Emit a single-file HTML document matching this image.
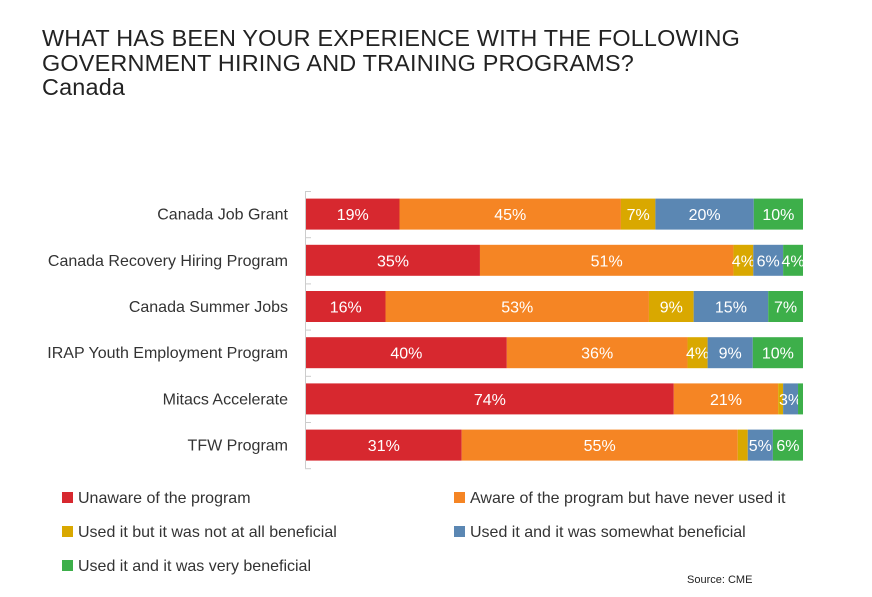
<!DOCTYPE html>
<html><head><meta charset="utf-8"><style>
body{margin:0;background:#fff;width:872px;height:597px;overflow:hidden;font-family:"Liberation Sans",sans-serif}
.t{position:absolute;left:42px;color:#222;font-size:23.4px;line-height:24.5px;font-weight:300}
</style></head><body>
<div class="t" style="top:26px;letter-spacing:0.2px">WHAT HAS BEEN YOUR EXPERIENCE WITH THE FOLLOWING<br>GOVERNMENT HIRING AND TRAINING PROGRAMS?<br>Canada</div>
<svg id="c" width="872" height="597" style="position:absolute;left:0;top:0"></svg>
<script>
const categories=["Canada Job Grant","Canada Recovery Hiring Program","Canada Summer Jobs","IRAP Youth Employment Program","Mitacs Accelerate","TFW Program"];
const unaware=[19,35,16,40,74,31];
const awareNeverUsed=[45,51,53,36,21,55];
const notBeneficial=[7,4,9,4,1,2];
const somewhatBeneficial=[20,6,15,9,3,5];
const veryBeneficial=[10,4,7,10,1,6];
const labels=[["19%","45%","7%","20%","10%"],["35%","51%","4%","6%","4%"],["16%","53%","9%","15%","7%"],["40%","36%","4%","9%","10%"],["74%","21%","","3%",""],["31%","55%","","5%","6%"]];
const seriesNames=["Unaware of the program","Aware of the program but have never used it","Used it but it was not at all beneficial","Used it and it was somewhat beneficial","Used it and it was very beneficial"];
const colors=["#d7282f","#f58524","#d9a800","#5b87b3","#3daf4a"];
const series=[unaware,awareNeverUsed,notBeneficial,somewhatBeneficial,veryBeneficial];
const svg=document.getElementById('c');const NS="http://www.w3.org/2000/svg";
const x0=306,x1=803,top0=191,rowH=46.2,barH=31;
function mk(t,a){const e=document.createElementNS(NS,t);for(const k in a)e.setAttribute(k,a[k]);svg.appendChild(e);return e;}
const ax=mk('line',{x1:305.5,x2:305.5,y1:top0,y2:top0+rowH*6,stroke:'#ccc'});


for(let i=0;i<=6;i++){const tk=mk('line',{x1:305,x2:311,y1:top0+i*rowH+0.5,y2:top0+i*rowH+0.5,stroke:'#ccc'});

}
categories.forEach((cat,i)=>{
 const yc=top0+rowH*i+rowH/2;
 const tl=mk('text',{x:288,y:yc+5.5,'text-anchor':'end','font-size':16,fill:'#333'});tl.textContent=cat;
 
 
 let tot=0;series.forEach(s=>tot+=s[i]);
 let acc=0;
 series.forEach((s,j)=>{
  const xa=x0+(x1-x0)*acc/tot;acc+=s[i];const xb=x0+(x1-x0)*acc/tot;
  const r=mk('rect',{x:xa,y:yc-barH/2,width:xb-xa,height:barH,fill:colors[j]});
  
  
  const lb=labels[i][j];
  if(lb){const t=mk('text',{x:(xa+xb)/2,y:yc+6,'text-anchor':'middle','font-size':16,fill:'#fff'});t.textContent=lb;
  
  }
 });
});
const lx=[62,454,62,454,62],ly=[498,498,532,532,566];
seriesNames.forEach((n,j)=>{
 const r=mk('rect',{x:lx[j],y:ly[j]-6,width:11,height:11,fill:colors[j]});
 
 
 const t=mk('text',{x:lx[j]+16,y:ly[j]+5,'font-size':16,fill:'#333'});t.textContent=n;
 
 
});
const src=mk('text',{x:687,y:583,'font-size':11,fill:'#222'});src.textContent="Source: CME";


</script>
</body></html>
